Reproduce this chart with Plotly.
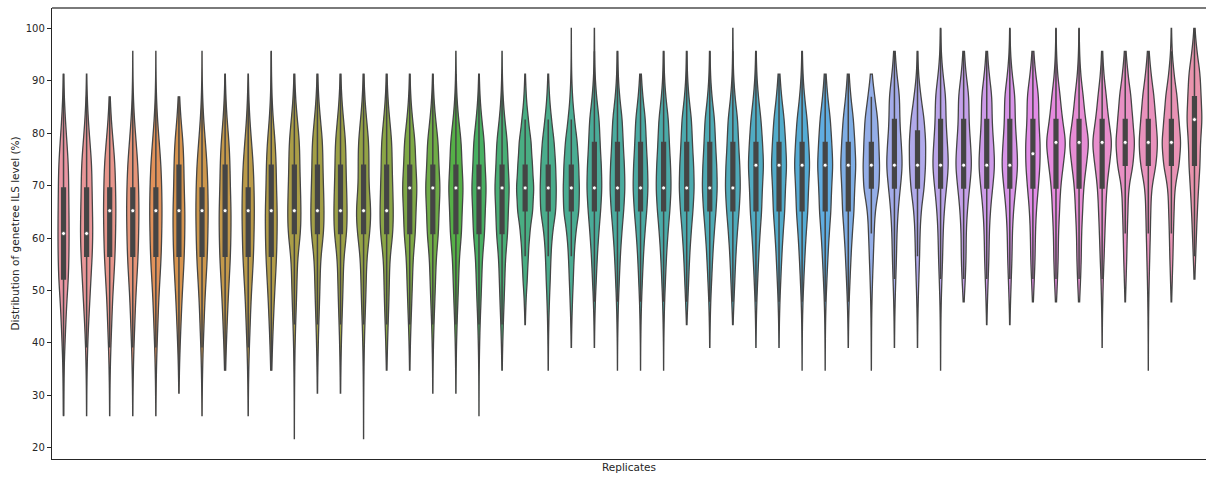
import math
import colorsys
import numpy as np
import plotly.graph_objects as go

# ---------------- data ----------------
# ILS level values (%) that occur in the gene trees (k/23)
ils_levels = [21.74, 26.09, 30.43, 34.78, 39.13, 43.48, 47.83, 52.17, 56.52, 60.87,
              65.22, 69.57, 73.91, 78.26, 82.61, 86.96, 91.30, 95.65, 100.0]

# number of gene trees (per 1000) at each ILS level, one row per replicate
replicate_counts = [
    [0, 2, 5, 12, 28, 50, 70, 110, 120, 125, 120, 115, 110, 75, 40, 15, 3, 0, 0],
    [0, 2, 4, 10, 22, 42, 70, 95, 125, 140, 130, 120, 115, 75, 35, 12, 3, 0, 0],
    [0, 2, 5, 12, 25, 45, 61, 90, 120, 130, 140, 130, 120, 78, 33, 9, 0, 0, 0],
    [0, 2, 5, 12, 25, 45, 61, 90, 120, 130, 140, 130, 115, 75, 35, 11, 3, 1, 0],
    [0, 2, 5, 12, 25, 45, 61, 90, 120, 130, 140, 130, 115, 75, 35, 11, 3, 1, 0],
    [0, 0, 3, 10, 25, 45, 65, 92, 120, 130, 135, 115, 110, 95, 42, 13, 0, 0, 0],
    [0, 2, 5, 12, 25, 45, 61, 90, 120, 130, 140, 130, 115, 75, 35, 11, 3, 1, 0],
    [0, 0, 0, 13, 25, 45, 65, 92, 120, 130, 135, 115, 110, 90, 42, 15, 3, 0, 0],
    [0, 2, 5, 12, 25, 45, 61, 90, 120, 130, 140, 130, 115, 75, 35, 12, 3, 0, 0],
    [0, 0, 0, 13, 25, 45, 65, 92, 120, 130, 135, 115, 110, 90, 40, 15, 4, 1, 0],
    [1, 2, 4, 8, 15, 28, 47, 60, 70, 145, 150, 135, 120, 120, 65, 23, 7, 0, 0],
    [0, 0, 3, 8, 17, 30, 47, 60, 70, 145, 150, 135, 120, 120, 65, 23, 7, 0, 0],
    [0, 0, 3, 8, 17, 30, 47, 60, 70, 145, 150, 135, 120, 120, 65, 23, 7, 0, 0],
    [1, 2, 4, 8, 15, 28, 47, 60, 70, 140, 175, 115, 120, 120, 65, 23, 7, 0, 0],
    [0, 0, 0, 6, 17, 32, 50, 60, 70, 145, 150, 135, 120, 120, 65, 23, 7, 0, 0],
    [0, 0, 0, 4, 12, 27, 45, 62, 75, 130, 135, 170, 130, 125, 60, 20, 5, 0, 0],
    [0, 0, 2, 5, 12, 25, 44, 62, 75, 130, 135, 170, 130, 125, 60, 20, 5, 0, 0],
    [0, 0, 2, 5, 12, 25, 44, 62, 75, 130, 135, 170, 130, 125, 58, 20, 5, 2, 0],
    [0, 1, 2, 5, 12, 24, 44, 62, 75, 130, 135, 170, 130, 125, 60, 20, 5, 0, 0],
    [0, 0, 0, 4, 12, 27, 45, 62, 75, 130, 135, 170, 130, 125, 58, 20, 5, 2, 0],
    [0, 0, 0, 0, 0, 4, 18, 48, 70, 100, 170, 195, 160, 135, 70, 24, 6, 0, 0],
    [0, 0, 0, 2, 5, 12, 25, 46, 60, 90, 175, 180, 165, 135, 72, 26, 7, 0, 0],
    [0, 0, 0, 0, 3, 10, 25, 45, 62, 95, 175, 180, 165, 135, 70, 25, 7, 2, 1],
    [0, 0, 0, 0, 2, 8, 20, 43, 65, 97, 140, 170, 155, 125, 110, 45, 13, 5, 2],
    [0, 0, 0, 1, 3, 10, 21, 42, 63, 95, 140, 170, 155, 125, 110, 45, 14, 6, 0],
    [0, 0, 0, 1, 3, 10, 21, 42, 63, 95, 140, 170, 155, 125, 112, 48, 15, 0, 0],
    [0, 0, 0, 1, 3, 10, 21, 42, 63, 95, 140, 170, 155, 125, 110, 45, 14, 6, 0],
    [0, 0, 0, 0, 0, 4, 24, 45, 65, 97, 140, 170, 155, 125, 110, 45, 14, 6, 0],
    [0, 0, 0, 0, 2, 8, 20, 43, 65, 97, 140, 170, 155, 125, 110, 45, 14, 6, 0],
    [0, 0, 0, 0, 0, 4, 24, 45, 65, 97, 140, 170, 155, 125, 110, 45, 13, 5, 2],
    [0, 0, 0, 0, 2, 7, 19, 40, 62, 90, 130, 140, 175, 145, 115, 52, 17, 6, 0],
    [0, 0, 0, 0, 2, 7, 19, 40, 62, 90, 130, 140, 175, 145, 118, 55, 17, 0, 0],
    [0, 0, 0, 1, 3, 7, 18, 39, 62, 90, 130, 140, 175, 145, 115, 52, 17, 6, 0],
    [0, 0, 0, 1, 3, 7, 18, 39, 62, 90, 130, 140, 175, 145, 118, 55, 17, 0, 0],
    [0, 0, 0, 0, 2, 7, 19, 40, 62, 90, 130, 140, 175, 145, 118, 55, 17, 0, 0],
    [0, 0, 0, 1, 3, 6, 13, 27, 45, 62, 83, 175, 185, 165, 145, 75, 15, 0, 0],
    [0, 0, 0, 0, 2, 6, 15, 30, 47, 55, 80, 130, 185, 150, 115, 122, 50, 13, 0],
    [0, 0, 0, 0, 2, 6, 15, 30, 47, 55, 80, 150, 180, 185, 150, 75, 20, 5, 0],
    [0, 0, 0, 1, 3, 6, 14, 29, 47, 55, 80, 130, 185, 150, 115, 122, 48, 12, 3],
    [0, 0, 0, 0, 0, 0, 8, 37, 55, 55, 80, 130, 185, 150, 115, 122, 50, 13, 0],
    [0, 0, 0, 0, 0, 3, 15, 32, 50, 55, 80, 130, 185, 150, 115, 122, 50, 13, 0],
    [0, 0, 0, 0, 0, 3, 15, 32, 50, 55, 80, 130, 185, 150, 115, 122, 48, 12, 3],
    [0, 0, 0, 0, 0, 0, 8, 32, 50, 55, 75, 120, 160, 165, 125, 135, 58, 17, 0],
    [0, 0, 0, 0, 0, 0, 10, 35, 50, 55, 80, 100, 160, 230, 140, 95, 33, 10, 2],
    [0, 0, 0, 0, 0, 0, 10, 35, 50, 55, 80, 100, 160, 230, 140, 95, 33, 10, 2],
    [0, 0, 0, 0, 2, 5, 13, 25, 45, 60, 80, 100, 160, 230, 140, 95, 35, 10, 0],
    [0, 0, 0, 0, 0, 0, 5, 20, 35, 45, 60, 75, 175, 215, 165, 130, 60, 15, 0],
    [0, 0, 0, 1, 2, 5, 10, 20, 32, 45, 55, 70, 175, 215, 165, 130, 60, 15, 0],
    [0, 0, 0, 0, 0, 0, 5, 20, 35, 45, 60, 75, 175, 215, 165, 130, 57, 15, 3],
    [0, 0, 0, 0, 0, 0, 0, 8, 27, 45, 65, 90, 125, 130, 175, 145, 130, 52, 8],
]

y_ticks = [20, 30, 40, 50, 60, 70, 80, 90, 100]
y_title = "Distribution of genetree ILS level (%)"
x_title = "Replicates"

# ---------------- seaborn-like husl palette ----------------
_M = [[3.2406, -1.5372, -0.4986], [-0.9689, 1.8758, 0.0415], [0.0557, -0.2040, 1.0570]]
_REF_U, _REF_V = 0.19784, 0.46834


def _max_chroma(L, H):
    hrad = math.radians(H)
    sinH, cosH = math.sin(hrad), math.cos(hrad)
    sub1 = (L + 16) ** 3 / 1560896.0
    sub2 = sub1 if sub1 > 0.008856 else L / 903.3
    result = float("inf")
    for m1, m2, m3 in _M:
        top = (0.99915 * m1 + 1.05122 * m2 + 1.14460 * m3) * sub2
        rbottom = 0.86330 * m3 - 0.17266 * m2
        lbottom = 0.12949 * m3 - 0.38848 * m1
        bottom = (rbottom * sinH + lbottom * cosH) * sub2
        for t in (0.0, 1.0):
            C = L * (top - 1.05122 * t) / (bottom + 0.17266 * sinH * t)
            if 0 < C < result:
                result = C
    return result


def _husl_to_rgb(H, S, L):
    C = _max_chroma(L, H) / 100 * S
    U = math.cos(math.radians(H)) * C
    V = math.sin(math.radians(H)) * C
    t = (L + 16) / 116
    Y = t ** 3 if t ** 3 > 0.008856 else (116 * t - 16) / 903.3
    varU = U / (13 * L) + _REF_U
    varV = V / (13 * L) + _REF_V
    X = -(9 * Y * varU) / ((varU - 4) * varV - varU * varV)
    Z = (9 * Y - 15 * varV * Y - varV * X) / (3 * varV)

    def fl(c):
        return 12.92 * c if c <= 0.0031308 else 1.055 * c ** (1 / 2.4) - 0.055

    return [min(1.0, max(0.0, fl(r[0] * X + r[1] * Y + r[2] * Z))) for r in _M]


n_rep = len(replicate_counts)
hues = (np.linspace(0, 1, n_rep + 1)[:-1] + 0.01) % 1 * 359
colors_rgb = []
for h in hues:
    r, g, b = _husl_to_rgb(h, 0.9 * 99, 0.7 * 99)
    hh, ll, ss = colorsys.rgb_to_hls(r, g, b)
    colors_rgb.append(colorsys.hls_to_rgb(hh, ll, ss * 0.75))
lum = min(colorsys.rgb_to_hls(*c)[1] for c in colors_rgb) * 0.6
gray = "#%02x%02x%02x" % ((round(lum * 255),) * 3)


def to_hex(c):
    return "#%02x%02x%02x" % tuple(int(round(v * 255)) for v in c)


# ---------------- figure ----------------
fig = go.Figure()
med_x, med_y = [], []
for i, counts in enumerate(replicate_counts):
    vals = np.repeat(np.array(ils_levels), counts)
    bw = np.std(vals, ddof=1) * len(vals) ** (-0.2)
    fig.add_trace(go.Violin(
        x=np.full(len(vals), i), y=vals,
        scalegroup="all", scalemode="width", spanmode="hard",
        bandwidth=bw, fillcolor=to_hex(colors_rgb[i]),
        line=dict(color=gray, width=1.3),
        box=dict(visible=True, width=0.2, fillcolor=gray,
                 line=dict(color=gray, width=1.5)),
        meanline=dict(visible=False), points=False,
        showlegend=False, hoverinfo="skip",
    ))
    med_x.append(i)
    med_y.append(float(np.median(vals)))

fig.add_trace(go.Scatter(
    x=med_x, y=med_y, mode="markers", showlegend=False, hoverinfo="skip",
    marker=dict(color="white", size=4, line=dict(color=gray, width=0.8)),
))

font = "DejaVu Sans, Liberation Sans, sans-serif"
fig.update_layout(
    width=1206, height=478,
    margin=dict(l=52, r=0, t=8, b=19),
    paper_bgcolor="white", plot_bgcolor="white",
    violinmode="overlay", violingap=0.2, violingroupgap=0,
    font=dict(family=font, size=10, color="#262626"),
    xaxis=dict(range=[-0.5, n_rep - 0.5], showticklabels=False, ticks="",
               showgrid=False, zeroline=False, showline=True,
               linecolor="#262626", linewidth=1.3),
    yaxis=dict(range=[17.83, 103.91], tickvals=y_ticks, ticks="outside",
               ticklen=4, tickwidth=1, tickcolor="#262626",
               showgrid=False, zeroline=False, showline=True,
               linecolor="#262626", linewidth=1.3,
               tickfont=dict(size=10, color="#262626")),
    shapes=[dict(type="line", xref="paper", yref="paper", x0=0, x1=1, y0=1, y1=1,
                 line=dict(color="#7a7a7a", width=2))],
    annotations=[
        dict(text=y_title, xref="paper", yref="paper", x=0, y=0.5,
             xshift=-38, textangle=-90, showarrow=False,
             xanchor="center", yanchor="middle",
             font=dict(size=10.5, color="#262626")),
        dict(text=x_title, xref="paper", yref="paper", x=0.5, y=0,
             yshift=-8, showarrow=False, xanchor="center", yanchor="middle",
             font=dict(size=10.5, color="#262626")),
    ],
)

fig.write_html("out.html")
